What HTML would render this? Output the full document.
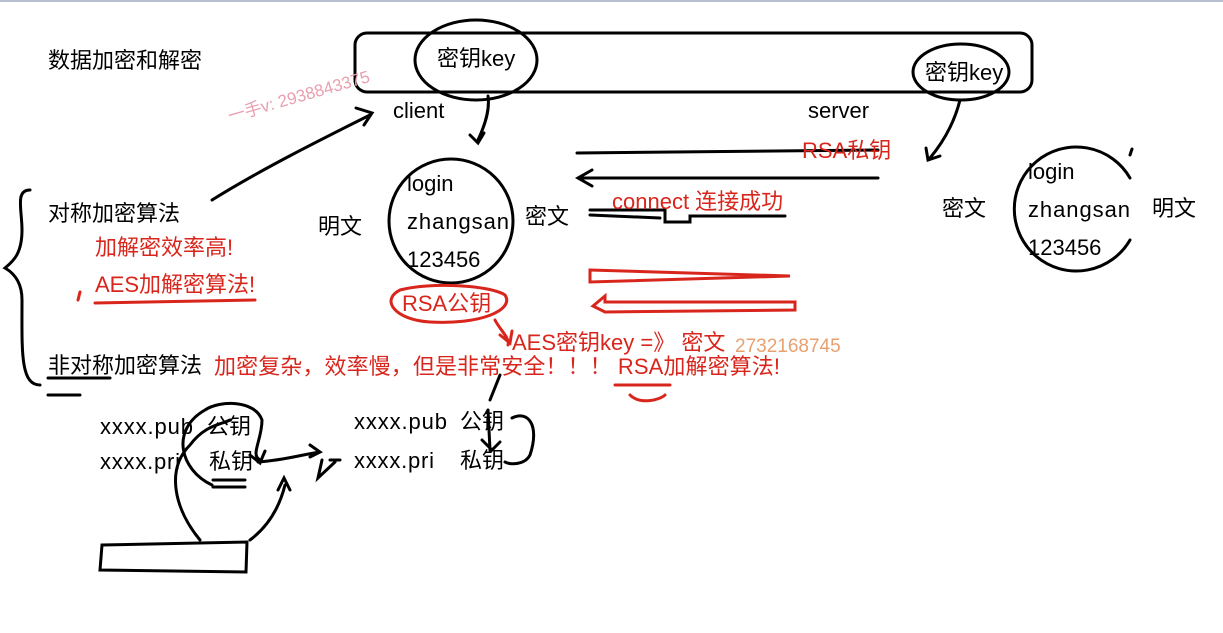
<!DOCTYPE html>
<html><head><meta charset="utf-8"><style>
html,body{margin:0;padding:0;background:#fff;}
svg{display:block;}
text{font-family:"Liberation Sans","Noto Sans CJK SC",sans-serif;}
</style></head><body>
<svg width="1223" height="633" viewBox="0 0 1223 633" xmlns="http://www.w3.org/2000/svg">
<rect x="0" y="0" width="1223" height="2" fill="#b8c0d0"/>
<g fill="none" stroke="#000" stroke-width="3" stroke-linecap="round">
<rect x="355" y="33" width="677" height="59" rx="12"/>
<ellipse cx="476" cy="60" rx="61" ry="40"/>
<ellipse cx="961" cy="72" rx="48" ry="28"/>
<circle cx="451" cy="221" r="62"/>
<path d="M1130 178 A62 62 0 1 0 1130 240"/>
<path d="M1130 155 l2 -6"/>
<path d="M488 96 C490 110 485 125 478 140 M470 135 l8 8 l6 -10"/>
<path d="M960 100 C955 120 945 140 930 158 M926 148 l2 12 l12 -4"/>
<path d="M212 200 C260 170 320 140 370 115 M356 108 l16 5 l-8 12"/>
<path d="M577 153 L878 150"/>
<path d="M878 178 L578 178 M592 170 l-14 8 l14 8"/>
<path d="M590 210 L665 210 L665 222 L690 222 L690 216 L785 216 M590 215 L660 218"/>
<path d="M30 190 C15 190 22 210 22 230 C22 255 12 262 5 268 C12 272 22 280 22 300 C22 350 20 385 40 385"/>
<path d="M48 378 L110 378 M48 395 L80 395"/>
<path d="M212 485 C180 470 170 430 205 410 C220 400 255 400 262 420 C262 440 250 455 260 460 M250 455 l10 8 l5 -12"/>
<path d="M200 540 C175 510 165 470 190 445 C205 425 220 425 230 420"/>
<path d="M250 540 C270 525 280 505 285 485 M278 490 l6 -12 l6 12"/>
<path d="M258 462 C285 460 300 455 320 452 M310 445 l10 7 l-10 5"/>
<path d="M322 460 L318 478 L335 462 M330 460 l10 0"/>
<path d="M213 480 L245 480 M213 487 L245 487"/>
<path d="M102 545 L247 542 L246 572 L100 570 Z"/>
<path d="M512 418 C528 410 540 425 530 455 C525 465 510 465 505 462 M488 410 l2 40 M482 440 l10 10 l8 -8"/>
<path d="M490 400 L500 375"/>
</g>
<g fill="none" stroke="#d9261c" stroke-width="3" stroke-linecap="round">
<path d="M590 270 L790 276 L590 282 Z"/>
<path d="M795 302 L605 302 L605 296 L593 306 L605 312 L795 310 Z"/>
<path d="M400 290 C380 300 395 320 430 322 C480 325 515 310 505 295 C490 285 430 282 400 290"/>
<path d="M495 320 C500 330 510 338 508 345 M500 335 l10 8 l2 -12"/>
<path d="M80 292 L78 300 M95 303 L255 300"/>
<path d="M615 385 L670 385 M630 395 C640 405 660 400 665 395"/>
</g>
<g font-size="22" fill="#000">
<text x="48" y="68">数据加密和解密</text>
<text x="437" y="66">密钥key</text>
<text x="925" y="80">密钥key</text>
<text x="393" y="118">client</text>
<text x="808" y="118">server</text>
<text x="48" y="221">对称加密算法</text>
<text x="318" y="234">明文</text>
<text x="407" y="191">login</text>
<text x="407" y="229" textLength="102">zhangsan</text>
<text x="407" y="267">123456</text>
<text x="525" y="224">密文</text>
<text x="942" y="216">密文</text>
<text x="1028" y="179">login</text>
<text x="1028" y="217" textLength="102">zhangsan</text>
<text x="1028" y="255">123456</text>
<text x="1152" y="216">明文</text>
<text x="48" y="373">非对称加密算法</text>
<text x="100" y="434" textLength="93">xxxx.pub</text>
<text x="207" y="434">公钥</text>
<text x="100" y="469" textLength="80">xxxx.pri</text>
<text x="209" y="469">私钥</text>
<text x="354" y="429" textLength="93">xxxx.pub</text>
<text x="460" y="429">公钥</text>
<text x="354" y="468" textLength="80">xxxx.pri</text>
<text x="460" y="468">私钥</text>
</g>
<g font-size="22" fill="#d9261c">
<text x="802" y="158">RSA私钥</text>
<text x="612" y="209">connect 连接成功</text>
<text x="95" y="255">加解密效率高!</text>
<text x="95" y="292">AES加解密算法!</text>
<text x="402" y="311">RSA公钥</text>
<text x="512" y="350">AES密钥key =》 密文</text>
<text x="214" y="374" textLength="566">加密复杂，效率慢，但是非常安全！！！ RSA加解密算法!</text>
</g>
<text x="735" y="352" font-size="19" fill="#e8a070">2732168745</text>
<text x="230" y="122" font-size="17" fill="#e8a0b0" transform="rotate(-16 230 122)">一手v: 2938843375</text>
</svg>
</body></html>
